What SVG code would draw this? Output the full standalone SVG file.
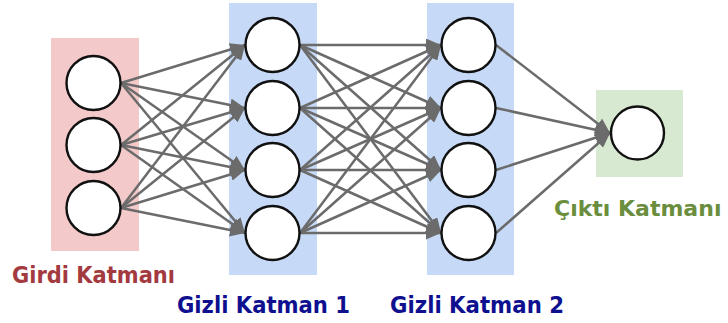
<svg xmlns="http://www.w3.org/2000/svg" width="728" height="323" viewBox="0 0 728 323">
<style>
.node circle{fill:#ffffff;stroke:#111111;stroke-width:2.4}
.conn line{stroke:#6b6b6b;stroke-width:2.5;marker-end:url(#ah)}
.lbl{font-family:"DejaVu Sans","Verdana",sans-serif;font-weight:bold;font-size:23px}
</style>
<defs>
<marker id="ah" markerUnits="userSpaceOnUse" markerWidth="15" markerHeight="13" refX="15" refY="6.5" orient="auto">
<path d="M0,0 L15,6.5 L0,13 z" fill="#6b6b6b"/>
</marker>
</defs>
<rect width="728" height="323" fill="#ffffff"/>
<g id="layer-bg">
<rect x="51" y="38" width="88" height="213" fill="#f3c9ca"/>
<rect x="229" y="3" width="88" height="272" fill="#c6d9f6"/>
<rect x="427" y="3" width="87" height="272" fill="#c6d9f6"/>
<rect x="596" y="90" width="87" height="87" fill="#d7e9d0"/>
</g>
<g id="connectors" class="conn">
<line x1="121" y1="83" x2="245" y2="45"/>
<line x1="121" y1="83" x2="245" y2="108"/>
<line x1="121" y1="83" x2="245" y2="170"/>
<line x1="121" y1="83" x2="245" y2="233"/>
<line x1="121" y1="145" x2="245" y2="45"/>
<line x1="121" y1="145" x2="245" y2="108"/>
<line x1="121" y1="145" x2="245" y2="170"/>
<line x1="121" y1="145" x2="245" y2="233"/>
<line x1="121" y1="208" x2="245" y2="45"/>
<line x1="121" y1="208" x2="245" y2="108"/>
<line x1="121" y1="208" x2="245" y2="170"/>
<line x1="121" y1="208" x2="245" y2="233"/>
<line x1="300" y1="45" x2="441" y2="45"/>
<line x1="300" y1="45" x2="441" y2="108"/>
<line x1="300" y1="45" x2="441" y2="170"/>
<line x1="300" y1="45" x2="441" y2="233"/>
<line x1="300" y1="108" x2="441" y2="45"/>
<line x1="300" y1="108" x2="441" y2="108"/>
<line x1="300" y1="108" x2="441" y2="170"/>
<line x1="300" y1="108" x2="441" y2="233"/>
<line x1="300" y1="170" x2="441" y2="45"/>
<line x1="300" y1="170" x2="441" y2="108"/>
<line x1="300" y1="170" x2="441" y2="170"/>
<line x1="300" y1="170" x2="441" y2="233"/>
<line x1="300" y1="233" x2="441" y2="45"/>
<line x1="300" y1="233" x2="441" y2="108"/>
<line x1="300" y1="233" x2="441" y2="170"/>
<line x1="300" y1="233" x2="441" y2="233"/>
<line x1="496" y1="45" x2="610" y2="133"/>
<line x1="496" y1="108" x2="610" y2="133"/>
<line x1="496" y1="170" x2="610" y2="133"/>
<line x1="496" y1="233" x2="610" y2="133"/>
</g>
<g id="input-1" class="node"><circle cx="93.5" cy="83" r="27"/></g>
<g id="input-2" class="node"><circle cx="93.5" cy="145" r="27"/></g>
<g id="input-3" class="node"><circle cx="93.5" cy="208" r="27"/></g>
<g id="hidden1-1" class="node"><circle cx="272.5" cy="45" r="27"/></g>
<g id="hidden1-2" class="node"><circle cx="272.5" cy="108" r="27"/></g>
<g id="hidden1-3" class="node"><circle cx="272.5" cy="170" r="27"/></g>
<g id="hidden1-4" class="node"><circle cx="272.5" cy="233" r="27"/></g>
<g id="hidden2-1" class="node"><circle cx="468.5" cy="45" r="27"/></g>
<g id="hidden2-2" class="node"><circle cx="468.5" cy="108" r="27"/></g>
<g id="hidden2-3" class="node"><circle cx="468.5" cy="170" r="27"/></g>
<g id="hidden2-4" class="node"><circle cx="468.5" cy="233" r="27"/></g>
<g id="output-1" class="node"><circle cx="637.5" cy="133" r="26.5"/></g>
<g id="labels">
<text class="lbl" x="12" y="283" textLength="163" lengthAdjust="spacingAndGlyphs" fill="#a33a40">Girdi Katmanı</text>
<text class="lbl" x="177" y="313" textLength="173" lengthAdjust="spacingAndGlyphs" fill="#0f108f">Gizli Katman 1</text>
<text class="lbl" x="390" y="313" textLength="174" lengthAdjust="spacingAndGlyphs" fill="#0f108f">Gizli Katman 2</text>
<text class="lbl" x="554" y="216" style="font-size:22px" fill="#6a8e3e">Çıktı Katmanı</text>
</g>
</svg>
